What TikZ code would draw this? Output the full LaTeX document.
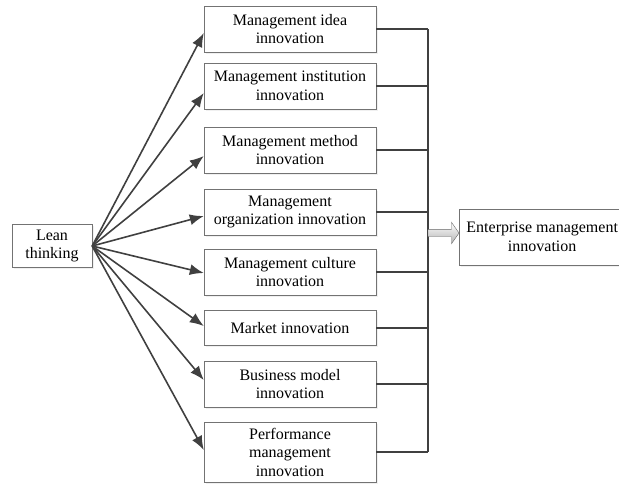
\documentclass[tikz,border=0pt]{standalone}
\usepackage{fontspec}
\setmainfont{Liberation Serif}
\usetikzlibrary{arrows.meta,shapes.arrows,shadows}

\begin{document}
\begin{tikzpicture}[x=1pt,y=-1pt,
    box/.style={draw=black!55,fill=white,align=center,minimum width=172pt,
        minimum height=46pt,inner sep=2pt,
        drop shadow={opacity=0.12,shadow xshift=1.5pt,shadow yshift=-1.5pt},
        font=\fontsize{16}{18.5}\selectfont},
    spoke/.style={draw=black!75,line width=1.6pt,-{Latex[length=14pt,width=11pt]}},
    link/.style={draw=black!75,line width=1.6pt}]
\useasboundingbox (0,0) rectangle (619,483);

% left: lean thinking
\node[box,minimum width=80pt,minimum height=43pt] (lean) at (52,246) {Lean\\thinking};

% middle column
\node[box] (idea) at (290,29) {Management idea\\innovation};
\node[box] (inst) at (290,86) {Management institution\\innovation};
\node[box] (method) at (290,150) {Management method\\innovation};
\node[box] (org) at (290,212) {Management\\organization innovation};
\node[box] (culture) at (290,272) {Management culture\\innovation};
\node[box,minimum height=35pt] (market) at (290,328) {Market innovation};
\node[box] (model) at (290,384) {Business model\\innovation};
\node[box,minimum height=60pt] (perf) at (290,452) {Performance\\management\\innovation};

% right: result
\node[box,minimum width=166pt,minimum height=56pt,anchor=west] (ent) at (459,237)
    {Enterprise management\\innovation};

\coordinate (bus) at (428,0);
\foreach \b/\d in {idea/-4,inst/-7,method/-6,org/-4,culture/-1,market/2,model/4,perf/2} {
  \draw[spoke] (lean.east) -- ([yshift=\d pt]\b.west);
  \draw[link] (\b.east) -- (\b.east -| bus);
}
\draw[link] (idea.east -| bus) -- (perf.east -| bus);

\node[single arrow,draw=black!60,top color=white,bottom color=black!30,
    inner sep=3.5pt,outer sep=0pt,minimum height=31pt,
    single arrow head extend=7pt,single arrow tip angle=110,
    anchor=tip] (flow) at ([yshift=4pt]ent.west) {};
\end{tikzpicture}
\end{document}
